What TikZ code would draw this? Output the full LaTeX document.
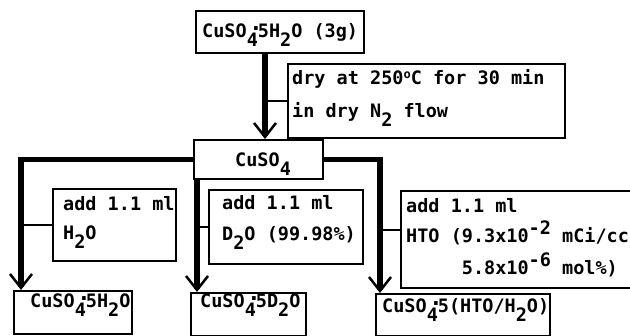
\documentclass[tikz,border=0pt]{standalone}
\usepackage{fontspec}
\setmonofont{DejaVu Sans Mono}
\usetikzlibrary{arrows.meta}
\newcommand\lo[1]{\raisebox{-9pt}[0pt][0pt]{#1}}
\newcommand\hi[1]{\raisebox{8pt}[0pt][0pt]{#1}}
\newcommand\hyd{\makebox[0pt]{\raisebox{7.5pt}[0pt][0pt]{\fontsize{22}{22}\selectfont.}\hspace{4pt}}}
\newcommand\degr{\raisebox{6pt}[0pt][0pt]{\fontsize{12}{12}\selectfont o}}

\begin{document}
\begin{tikzpicture}[x=1pt, y=-1pt,
  box/.style={draw, line width=2pt, anchor=north west, inner sep=0pt},
  txt/.style={anchor=base west, inner sep=0pt, font=\ttfamily\bfseries\fontsize{18.5}{22}\selectfont},
  trunk/.style={line width=5.5pt, -{Straight Barb[length=14pt, width=22pt, line width=2.5pt]}},
  link/.style={line width=2pt}]
  \useasboundingbox (0,0) rectangle (630,336);
  % start
  \node[box, minimum width=168pt, minimum height=42pt] (top) at (195,10) {};
  \node[txt] (top-l) at (202,38) {CuSO\lo{4}\hyd5H\lo{2}O (3g)};
  % drying
  \node[box, minimum width=277pt, minimum height=74pt] (dry) at (287,63) {};
  \node[txt] (dry-a) at (292,85) {dry at 250\degr C for 30 min};
  \node[txt] (dry-b) at (292,118) {in dry N\lo{2} flow};
  \node[box, minimum width=129pt, minimum height=39pt] (cu) at (193,139) {};
  \node[txt] (cu-l) at (235,167) {CuSO\lo{4}};
  % additions
  \node[box, minimum width=123pt, minimum height=72pt] (h2o) at (52,188) {};
  \node[txt] (h2o-a) at (63,211) {add 1.1 ml};
  \node[txt] (h2o-b) at (63,240) {H\lo{2}O};
  \node[box, minimum width=154pt, minimum height=74pt] (d2o) at (208,189) {};
  \node[txt] (d2o-a) at (222,210) {add 1.1 ml};
  \node[txt] (d2o-b) at (222,241) {D\lo{2}O (99.98\%)};
  \node[box, minimum width=245pt, minimum height=97pt] (hto) at (400,190) {};
  \node[txt] (hto-a) at (406,213) {add 1.1 ml};
  \node[txt] (hto-b) at (406,243) {HTO (9.3x10\hi{-2} mCi/cc};
  \node[txt] (hto-c) at (406,275) {\phantom{HTO (}5.8x10\hi{-6} mol\%)};
  % products
  \node[box, minimum width=118pt, minimum height=43pt] (b1) at (13,290) {};
  \node[txt] (b1-l) at (30,308) {CuSO\lo{4}\hyd5H\lo{2}O};
  \node[box, minimum width=115pt, minimum height=43pt] (b2) at (190,292) {};
  \node[txt] (b2-l) at (200,308) {CuSO\lo{4}\hyd5D\lo{2}O};
  \node[box, minimum width=174pt, minimum height=42pt] (b3) at (375,293) {};
  \node[txt] (b3-l) at (382,313) {CuSO\lo{4}\hyd5(HTO/H\lo{2}O)};
  % flow lines
  \coordinate (tx) at (265,0);
  \coordinate (lx) at (21,0);
  \coordinate (mx) at (197,0);
  \coordinate (rx) at (380,0);
  \draw[trunk] (tx |- top.south) -- (tx |- cu.north);
  \draw[trunk] (cu.west) -| (lx |- b1.north);
  \draw[trunk] (mx |- cu.south) -- (mx |- b2.north);
  \draw[trunk] (cu.east) -| (rx |- b3.north);
  % side links
  \coordinate (hj) at ([yshift=9pt]hto.west);
  \draw[link] (dry.west) -- (tx |- dry.west);
  \draw[link] (h2o.west) -- (lx |- h2o.west);
  \draw[link] (d2o.west) -- (mx |- d2o.west);
  \draw[link] (hj) -- (rx |- hj);
\end{tikzpicture}
\end{document}
